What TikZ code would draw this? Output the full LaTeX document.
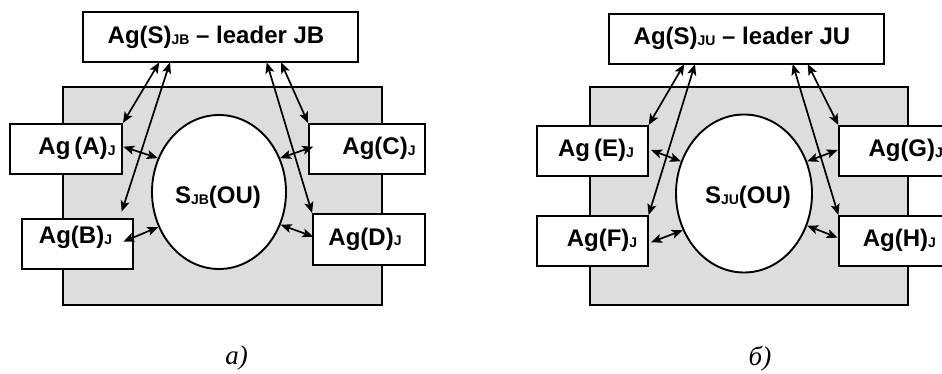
\documentclass[tikz,border=0pt]{standalone}
\usepackage{fontspec}
\setmainfont{Liberation Serif}
\newfontfamily\arialfont{Liberation Sans}
\usetikzlibrary{shapes.geometric,arrows.meta,calc}
\definecolor{panelgray}{RGB}{221,221,221}
\newcommand{\mysub}[1]{\raisebox{-0.8pt}{\fontsize{14}{14}\selectfont #1}}
\begin{document}
\begin{tikzpicture}[x=1pt,y=-1pt,
  box/.style={draw, line width=1.9pt, fill=white, inner sep=0pt, minimum height=50pt},
  panel/.style={draw, line width=1.9pt, fill=panelgray, inner sep=0pt},
  oval/.style={ellipse, draw, line width=1.9pt, fill=white, inner sep=0pt},
  lbl/.style={font=\arialfont\bfseries\fontsize{24}{28}\selectfont, anchor=base, inner sep=0pt},
  subcaption/.style={font=\itshape\fontsize{27}{30}\selectfont, anchor=base, inner sep=0pt},
  link/.style={line width=1.7pt, {Stealth[length=11pt,width=9pt,inset=2.5pt]}-{Stealth[length=11pt,width=9pt,inset=2.5pt]}}]
\useasboundingbox (0,0) rectangle (942,374);

% ---------- panel a ----------
\node[panel, minimum width=319pt, minimum height=218pt] (grayL) at (222.5,196) {};
\node[oval, minimum width=134pt, minimum height=154pt] (ellL) at (219,192) {};
\node[box, minimum width=275pt] (topL) at (220.5,37.3) {};
\node[box, minimum width=112pt] (A) at (66,149) {};
\node[box, minimum width=111pt] (B) at (77.5,244) {};
\node[box, minimum width=116pt] (C) at (367,149) {};
\node[box, minimum width=112pt, minimum height=51pt] (D) at (369,239.5) {};

\node[lbl] (tL) at (216,43.3) {Ag(S)\mysub{JB} – leader JB};
\node[lbl] (tA) at (77,155) {Ag\,(A)\mysub{J}};
\node[lbl] (tB) at (75.5,243.3) {Ag(B)\mysub{J}};
\node[lbl] (tC) at (379,155) {Ag(C)\mysub{J}};
\node[lbl] (tD) at (365,245) {Ag(D)\mysub{J}};
\node[lbl] (tS) at (218,203.3) {S\mysub{JB}(OU)};
\node[subcaption] (capA) at (236.5,364) {a)};

\coordinate (l1) at (159.3,62.3);
\coordinate (l2) at (170,62.3);
\coordinate (l3) at (266.7,62.3);
\coordinate (l4) at (281,62.3);
\coordinate (bT) at (121.7,211.7);
\coordinate (aS) at (123.3,146.7);
\coordinate (bS) at (123.3,241.7);
\coordinate (cS) at (313.3,146.7);
\coordinate (dS) at (313.3,236.7);

\draw[link] (l1) -- (A.north east);
\draw[link] (l2) -- (bT);
\draw[link] (l3) -- (D.north west);
\draw[link] (l4) -- (C.north west);
\draw[link] (aS) -- (ellL.151.7);
\draw[link] (bS) -- (ellL.210.3);
\draw[link] (cS) -- (ellL.29.7);
\draw[link] (dS) -- (ellL.-28.5);

% ---------- panel b ----------
\node[panel, minimum width=317.7pt, minimum height=217.7pt] (grayR) at (748.8,196.2) {};
\node[oval, minimum width=136pt, minimum height=158pt] (ellR) at (744,193.5) {};
\node[box, minimum width=275pt] (topR) at (746.2,39) {};
\node[box, minimum width=110.7pt] (E) at (592.3,151) {};
\node[box, minimum width=110.7pt] (F) at (592.3,241) {};
\node[box, minimum width=121.4pt] (G) at (900,151) {};
\node[box, minimum width=121.4pt] (H) at (900,241) {};

\node[lbl] (tR) at (742,45) {Ag(S)\mysub{JU} – leader JU};
\node[lbl] (tE) at (596,156.7) {Ag\,(E)\mysub{J}};
\node[lbl] (tF) at (602,246.7) {Ag(F)\mysub{J}};
\node[lbl, anchor=base west] (tG) at (868.3,156.7) {Ag(G)\mysub{J}};
\node[lbl, anchor=base west] (tH) at (862.7,246.7) {Ag(H)\mysub{J}};
\node[lbl] (tSR) at (748,203.3) {S\mysub{JU}(OU)};
\node[subcaption] (capB) at (760,365) {б)};

\coordinate (r1) at (684.3,64);
\coordinate (r2) at (695,64);
\coordinate (r3) at (792.7,64);
\coordinate (r4) at (807.7,64);
\coordinate (eS) at (651,150);
\coordinate (fS) at (651,242.3);
\coordinate (gS) at (837.7,150);
\coordinate (hS) at (837.7,237.7);

\draw[link] (r1) -- (E.north east);
\draw[link] (r2) -- (F.north east);
\draw[link] (r3) -- (H.north west);
\draw[link] (r4) -- (G.north west);
\draw[link] (eS) -- (ellR.153.3);
\draw[link] (fS) -- (ellR.211.2);
\draw[link] (gS) -- (ellR.27);
\draw[link] (hS) -- (ellR.-27.5);
\end{tikzpicture}
\end{document}
